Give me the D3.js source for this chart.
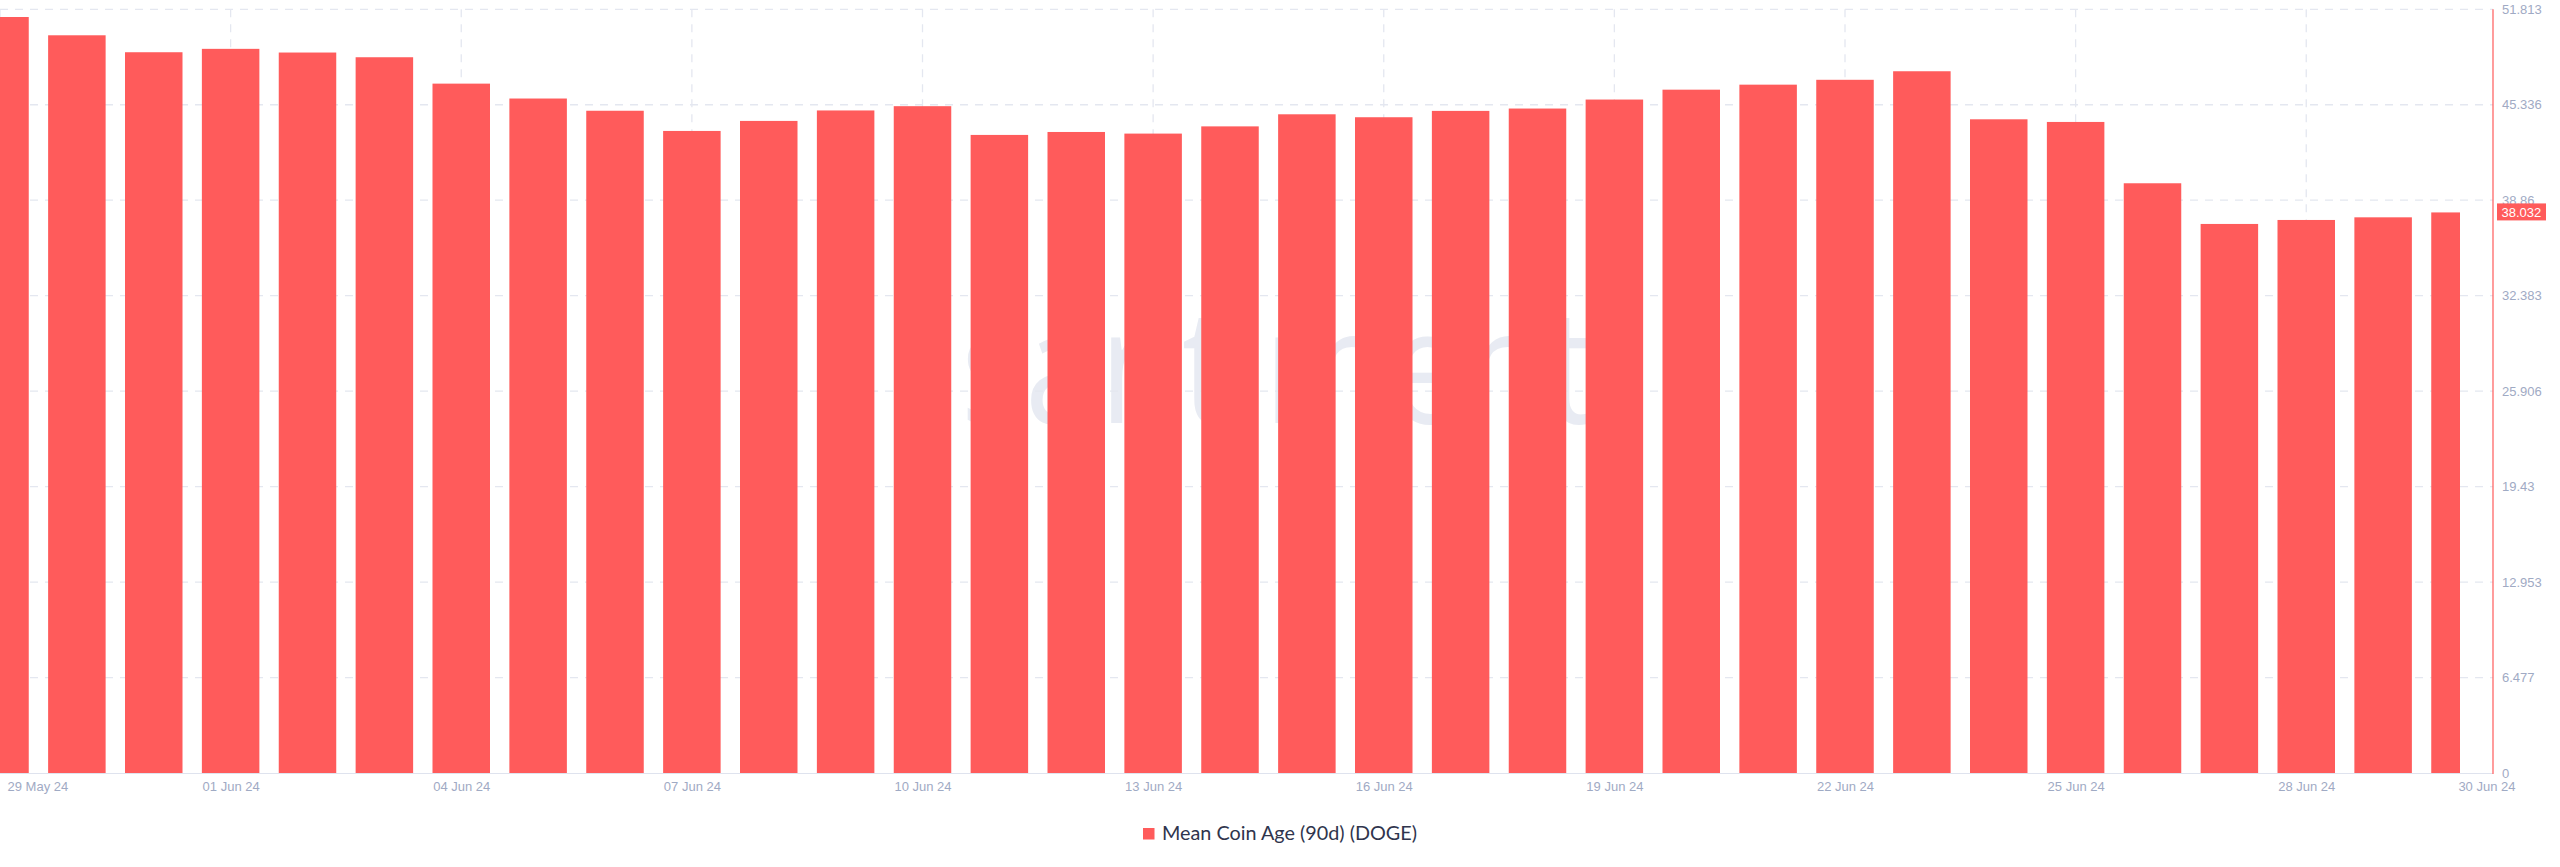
<!DOCTYPE html>
<html>
<head>
<meta charset="utf-8">
<script src="https://cdn.jsdelivr.net/npm/d3@7"></script>
<style>
  html, body { margin: 0; padding: 0; background: #fff; }
  svg { display: block; }
</style>
</head>
<body>
<div id="chart"></div>
<script>
// daily values, 29 May 24 - 30 Jun 24
var dates = ["2024-05-29","2024-05-30","2024-05-31","2024-06-01","2024-06-02","2024-06-03","2024-06-04",
  "2024-06-05","2024-06-06","2024-06-07","2024-06-08","2024-06-09","2024-06-10","2024-06-11","2024-06-12",
  "2024-06-13","2024-06-14","2024-06-15","2024-06-16","2024-06-17","2024-06-18","2024-06-19","2024-06-20",
  "2024-06-21","2024-06-22","2024-06-23","2024-06-24","2024-06-25","2024-06-26","2024-06-27","2024-06-28",
  "2024-06-29","2024-06-30"];
var meanCoinAge = [51.29, 50.05, 48.90, 49.13, 48.88, 48.56, 46.77,
  45.76, 44.93, 43.56, 44.24, 44.95, 45.24, 43.29, 43.49,
  43.38, 43.87, 44.69, 44.49, 44.92, 45.08, 45.69, 46.36,
  46.70, 47.03, 47.61, 44.35, 44.17, 40.01, 37.25, 37.52,
  37.70, 38.032];
var yTicks = [0, 6.477, 12.953, 19.43, 25.906, 32.383, 38.86, 45.336, 51.813];
var xTickDates = ["2024-05-29","2024-06-01","2024-06-04","2024-06-07","2024-06-10","2024-06-13",
  "2024-06-16","2024-06-19","2024-06-22","2024-06-25","2024-06-28","2024-06-30"];
var seriesName = "Mean Coin Age (90d) (DOGE)";
var lastLabel = "38.032";

var width = 2560, height = 867;
var plotRight = 2493, plotTop = 9.3, plotBottom = 773;
var red = "#ff5b5b", gridColor = "#e4e7f0", tickColor = "#9faac4";

var parse = d3.timeParse("%Y-%m-%d");
var fmt = d3.timeFormat("%d %b %y");
var data = dates.map(function(d, i) { return {date: parse(d), value: meanCoinAge[i]}; });

var xScale = d3.scaleTime()
    .domain([parse(dates[0]), parse(dates[dates.length - 1])])
    .range([0, 2460]);
var yScale = d3.scaleLinear().domain([0, 51.813]).range([plotBottom, plotTop]);
var step = xScale(data[1].date) - xScale(data[0].date);
var barW = step * 0.748;

var svg = d3.select("#chart").append("svg")
    .attr("width", width)
    .attr("height", height)
    .style("font-family", "'Liberation Sans', Arial, sans-serif");

// watermark
svg.append("text")
    .attr("x", 961)
    .attr("y", 423)
    .attr("textLength", 633)
    .attr("lengthAdjust", "spacingAndGlyphs")
    .style("font-family", "'Open Sans', sans-serif")
    .style("font-size", "160px")
    .attr("fill", "#e8ebf3")
    .text("santiment");

// grid
var grid = svg.append("g").attr("stroke", gridColor).attr("stroke-width", 1.3).attr("stroke-dasharray", "8,7");
grid.selectAll(".hgrid")
    .data(yTicks.slice(1))
    .enter().append("line")
    .attr("x1", 0).attr("x2", plotRight)
    .attr("y1", function(d) { return yScale(d); })
    .attr("y2", function(d) { return yScale(d); });
grid.selectAll(".vgrid")
    .data(xTickDates.slice(0, -1))
    .enter().append("line")
    .attr("x1", function(d) { return xScale(parse(d)); })
    .attr("x2", function(d) { return xScale(parse(d)); })
    .attr("y1", plotTop).attr("y2", plotBottom);

// bars, clipped to the date range like the original
svg.append("clipPath").attr("id", "plotClip")
    .append("rect").attr("x", 0).attr("y", 0).attr("width", xScale.range()[1]).attr("height", plotBottom);

svg.append("g")
    .attr("clip-path", "url(#plotClip)")
    .selectAll("rect")
    .data(data)
    .enter().append("rect")
    .attr("x", function(d) { return xScale(d.date) - barW / 2; })
    .attr("width", barW)
    .attr("y", function(d) { return yScale(d.value); })
    .attr("height", function(d) { return plotBottom - yScale(d.value); })
    .attr("fill", red);

// axis lines
svg.append("line")
    .attr("x1", 0).attr("x2", plotRight)
    .attr("y1", plotBottom + 0.5).attr("y2", plotBottom + 0.5)
    .attr("stroke", "#dfe3ee").attr("stroke-width", 1.2);
svg.append("line")
    .attr("x1", plotRight).attr("x2", plotRight)
    .attr("y1", plotTop).attr("y2", plotBottom + 1)
    .attr("stroke", red).attr("stroke-width", 1.2);

// y axis labels
var yAxis = svg.append("g")
    .attr("transform", "translate(2502,0)")
    .call(d3.axisRight(yScale).tickValues(yTicks).tickSize(0).tickPadding(0)
        .tickFormat(function(d) { return String(d); }));
yAxis.select(".domain").remove();
yAxis.selectAll("text")
    .attr("fill", tickColor)
    .style("font-size", "13px")
    .style("font-family", "'Liberation Sans', Arial, sans-serif");

// x axis labels
var xAxis = svg.append("g")
    .attr("transform", "translate(0," + plotBottom + ")")
    .call(d3.axisBottom(xScale).tickValues(xTickDates.map(parse)).tickSize(0).tickPadding(9)
        .tickFormat(fmt));
xAxis.select(".domain").remove();
xAxis.selectAll("text")
    .attr("fill", tickColor)
    .style("font-size", "13px")
    .style("font-family", "'Liberation Sans', Arial, sans-serif");
xAxis.selectAll(".tick").filter(function(d, i) { return i == 0; })
    .select("text").attr("text-anchor", "start").attr("x", 7);
xAxis.selectAll(".tick").filter(function(d, i) { return i == xTickDates.length - 1; })
    .select("text").attr("text-anchor", "end").attr("x", 55);

// last value badge
var lastY = yScale(meanCoinAge[meanCoinAge.length - 1]);
svg.append("rect")
    .attr("x", 2497).attr("y", lastY - 9)
    .attr("width", 49).attr("height", 17)
    .attr("fill", red);
svg.append("text")
    .attr("x", 2501.5).attr("y", lastY)
    .attr("dy", "0.34em")
    .attr("fill", "#fff")
    .style("font-size", "13px")
    .text(lastLabel);

// legend
var legend = svg.append("g").attr("transform", "translate(1143,828)");
legend.append("rect").attr("width", 11.5).attr("height", 11.5).attr("fill", red);
legend.append("text")
    .attr("x", 19).attr("y", 6)
    .attr("dy", "0.35em")
    .attr("fill", "#2f354d")
    .attr("textLength", 255)
    .attr("lengthAdjust", "spacingAndGlyphs")
    .style("font-family", "Lato, 'Open Sans', sans-serif")
    .style("font-size", "18.5px")
    .text(seriesName);
</script>
</body>
</html>
